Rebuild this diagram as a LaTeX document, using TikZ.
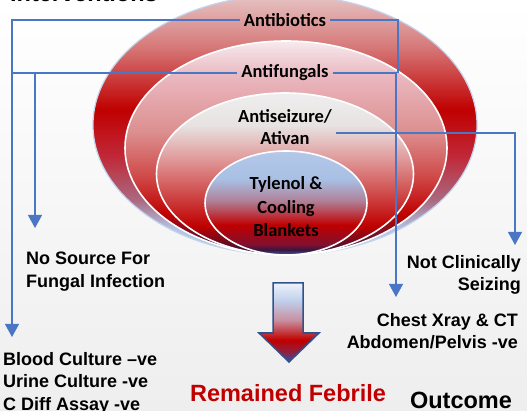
\documentclass[tikz,border=0pt]{standalone}
\usepackage{fontspec}
\setmainfont{Liberation Sans}
\newfontfamily\calibri{Carlito}
\usepackage{tikz}
\usetikzlibrary{shapes.geometric,arrows.meta,positioning,calc}
\definecolor{myblue}{RGB}{74,118,198}
\definecolor{myred}{RGB}{192,0,0}
\definecolor{mynavy}{RGB}{47,82,143}
\definecolor{myrim}{HTML}{C4D4EE}
\definecolor{bggray}{HTML}{EEEEEE}
% outer ring
\definecolor{oa}{HTML}{B8CCE8}
\definecolor{ob}{HTML}{B4C4E4}
\definecolor{oc}{HTML}{AA6A80}
\definecolor{od}{HTML}{C02838}
\definecolor{oe}{HTML}{D67878}
\definecolor{of}{HTML}{E6C4C4}
% second ring
\definecolor{sa}{HTML}{3A1A40}
\definecolor{sb}{HTML}{501838}
\definecolor{sc}{HTML}{D04A4A}
\definecolor{sd}{HTML}{DC9090}
\definecolor{se}{HTML}{EAB8C0}
\definecolor{sf}{HTML}{F6EAEE}
% third ring
\definecolor{ta}{HTML}{301040}
\definecolor{tb}{HTML}{401030}
\definecolor{tc}{HTML}{CC3C3C}
\definecolor{td}{HTML}{E09898}
\definecolor{te}{HTML}{E8E2E2}
\definecolor{tf}{HTML}{EEEEEE}
% inner disc
\definecolor{ia}{HTML}{3060B0}
\definecolor{ib}{HTML}{3A1540}
\definecolor{ic}{HTML}{801030}
\definecolor{id}{HTML}{B08098}
\definecolor{ie}{HTML}{A8C0E4}
\definecolor{if}{HTML}{B4C8E8}
% arrow
\definecolor{aa}{HTML}{3050A0}
\definecolor{ab}{HTML}{902040}
\definecolor{ac}{HTML}{C890A0}
\definecolor{ad}{HTML}{C0D0EC}
\definecolor{ae}{HTML}{EEF2FA}
\pgfdeclareverticalshading{outershade}{100bp}{color(0bp)=(oa); color(25bp)=(oa);
  color(30bp)=(ob); color(35.5bp)=(oc); color(44bp)=(od); color(53bp)=(myred);
  color(65bp)=(oe); color(75bp)=(of); color(100bp)=(of)}
\pgfdeclareverticalshading{secondshade}{100bp}{color(0bp)=(sa); color(25bp)=(sa);
  color(27.5bp)=(sb); color(34.5bp)=(myred); color(43.5bp)=(sc); color(54bp)=(sd);
  color(67bp)=(se); color(75bp)=(sf); color(100bp)=(sf)}
\pgfdeclareverticalshading{thirdshade}{100bp}{color(0bp)=(ta); color(25bp)=(ta);
  color(26.5bp)=(tb); color(34bp)=(myred); color(42bp)=(tc); color(54.5bp)=(td);
  color(65bp)=(te); color(75bp)=(tf); color(100bp)=(tf)}
\pgfdeclareverticalshading{innershade}{100bp}{color(0bp)=(ia); color(25bp)=(ia);
  color(27.5bp)=(ib); color(30bp)=(ic); color(39.5bp)=(myred); color(51bp)=(id);
  color(61.5bp)=(ie); color(75bp)=(if); color(100bp)=(if)}
\pgfdeclareverticalshading{arrowshade}{100bp}{color(0bp)=(aa); color(25bp)=(aa);
  color(31.5bp)=(ab); color(39bp)=(myred); color(51.5bp)=(ac); color(64bp)=(ad);
  color(75bp)=(ae); color(100bp)=(ae)}

\begin{document}
\begin{tikzpicture}[x=1pt,y=-1pt,
  ring/.style={font=\calibri\bfseries\fontsize{18.5}{22}\selectfont, align=center, inner sep=4pt},
  note/.style={font=\bfseries\fontsize{18}{22.5}\selectfont, inner sep=0pt},
  title/.style={font=\bfseries\fontsize{23.5}{28}\selectfont, inner sep=0pt},
  disc/.style={ellipse, inner sep=0pt, outer sep=0pt, draw=white, line width=1.6pt},
  link/.style={draw=myblue, line width=1.1pt},
  arrowlink/.style={link, -{Triangle[width=14pt,length=13pt]}}]
  \useasboundingbox (0,0) rectangle (527,411);
  \shade[top color=white, bottom color=bggray] (0,0) rectangle (527,411);

  \node[disc, draw=myrim, line width=1.2pt, shading=outershade,
        minimum width=384pt, minimum height=260pt](e1) at (285,125){};
  \node[disc, shading=secondshade, minimum width=322pt, minimum height=214pt](e2) at (286,148){};
  \node[disc, shading=thirdshade, minimum width=257pt, minimum height=162pt](e3) at (285,174){};
  \node[disc, shading=innershade, minimum width=162pt, minimum height=104pt](e4) at (286,203){};

  \node[ring](ab) at (285,20){Antibiotics};
  \node[ring](af) at (285,73){Antifungals};
  \node[ring](sz) at (285,127){Antiseizure/\\Ativan};
  \node[ring, font=\calibri\bfseries\fontsize{18.5}{23.5}\selectfont](ty) at (286,207){Tylenol \&\\Cooling\\Blankets};

  \node[title, anchor=base west](iv) at (10,1.5){Interventions};
  \node[note, align=left, anchor=north west](ns) at (26,252){No Source For\\Fungal Infection};
  \node[note, align=left, anchor=north west](bc) at (3,352){Blood Culture –ve\\Urine Culture -ve\\C Diff Assay -ve};
  \node[note, align=right, anchor=north east](nc) at (521,255){Not Clinically\\Seizing};
  \node[note, align=right, anchor=north east](cx) at (518,313){Chest Xray \& CT\\Abdomen/Pelvis -ve};
  \node[title, text=myred](rf) at (288,393){Remained Febrile};
  \node[title](oc) at (461,400){Outcome};

  \coordinate (bctip) at (12,337);
  \coordinate (nstip) at (35,228);
  \coordinate (cxtip) at (396,297);
  \coordinate (nctip) at (515,245);

  \draw[arrowlink] (ab.west) -| (bctip);
  \draw[link] (ab.east) -| (af.east -| 398,0);
  \draw[link] (af.west) -- (af.west -| bctip);
  \draw[arrowlink] (af.west) -| (nstip);
  \draw[arrowlink] (af.east) -| (cxtip);
  \draw[arrowlink] ([yshift=-6pt]sz.east) -| (nctip);

  \shadedraw[shading=arrowshade, draw=mynavy, line width=1.5pt]
    (273,283) -- (303,283) -- (303,333) -- (319,333) -- (289,362)
    -- (259,333) -- (273,333) -- cycle;
\end{tikzpicture}
\end{document}
